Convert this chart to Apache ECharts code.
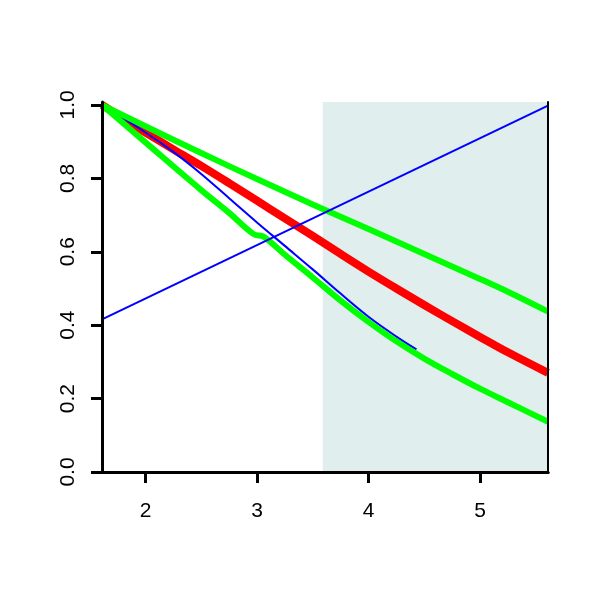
<!DOCTYPE html>
<html>
<head>
<meta charset="utf-8">
<script src="https://cdn.jsdelivr.net/npm/echarts@6/dist/echarts.min.js"></script>
<style>html,body{margin:0;padding:0;background:#fff}#c{width:600px;height:600px}</style>
</head>
<body>
<div id="c"></div>
<script>
// Tick labels
var xTicks = [2, 3, 4, 5];
var yTicks = [0, 0.2, 0.4, 0.6, 0.8, 1.0];
var xMin = 1.61, xMax = 5.61, yMin = 0, yMax = 1.008;
var shadeFrom = 3.59;

// Upper green curve
var ugX = [1.61, 2.0, 2.5, 3.0, 3.5, 4.0, 4.5, 5.0, 5.25, 5.61];
var ugY = [1.0, 0.942, 0.869, 0.798, 0.729, 0.662, 0.594, 0.526, 0.491, 0.437];
// Red curve
var redX = [1.61, 1.82, 2.0, 2.25, 2.5, 2.75, 3.0, 3.25, 3.5, 3.75, 4.0, 4.25, 4.5, 4.75, 5.0, 5.25, 5.61];
var redY = [1.0, 0.959, 0.925, 0.879, 0.834, 0.787, 0.739, 0.691, 0.643, 0.594, 0.546, 0.5, 0.455, 0.411, 0.368, 0.326, 0.27];
// Blue curve
var bcX = [1.61, 2.0, 2.25, 2.5, 2.75, 3.0, 3.25, 3.5, 3.75, 4.0, 4.25, 4.43];
var bcY = [1.0, 0.925, 0.872, 0.812, 0.746, 0.68, 0.616, 0.552, 0.486, 0.423, 0.369, 0.334];
// Lower green curve
var lgX = [1.61, 2.0, 2.5, 2.75, 2.97, 3.06, 3.25, 3.5, 3.75, 4.0, 4.25, 4.5, 4.75, 5.0, 5.25, 5.61];
var lgY = [1.0, 0.898, 0.768, 0.706, 0.648, 0.641, 0.592, 0.53, 0.467, 0.409, 0.356, 0.309, 0.267, 0.227, 0.19, 0.137];
// Blue straight line
var blX = [1.61, 5.61];
var blY = [0.416, 0.998];

function pts(xs, ys) { return xs.map(function (x, i) { return [x, ys[i]]; }); }

var font = '"Liberation Sans", Arial, Helvetica, sans-serif';
var chart = echarts.init(document.getElementById('c'), null, { renderer: 'canvas' });

function lineSeries(xs, ys, color, width, z, extra) {
  var s = {
    type: 'line', data: pts(xs, ys), symbol: 'none', smooth: 0.35,
    lineStyle: { color: color, width: width, cap: 'butt', join: 'round' },
    z: z, silent: true, animation: false, clip: true
  };
  if (extra) for (var k in extra) s[k] = extra[k];
  return s;
}

var option = {
  animation: false,
  backgroundColor: '#ffffff',
  grid: { left: 102, right: 52, top: 102, bottom: 128, show: false },
  xAxis: [{
    type: 'value', min: xMin, max: xMax, position: 'bottom', z: 10,
    axisLine: { show: true, lineStyle: { color: '#000', width: 3 } },
    axisTick: { show: true, length: 11, lineStyle: { color: '#000', width: 3 }, customValues: xTicks },
    axisLabel: { show: true, margin: 29, color: '#000', fontSize: 21, fontFamily: font, customValues: xTicks,
      formatter: function (v) { return String(v); } },
    splitLine: { show: false }
  }, {
    type: 'value', min: xMin, max: xMax, position: 'top', z: 10,
    axisLine: { show: true, lineStyle: { color: '#000', width: 3 } },
    axisTick: { show: false }, axisLabel: { show: false }, splitLine: { show: false }
  }],
  yAxis: [{
    type: 'value', min: yMin, max: yMax, position: 'left', z: 10,
    axisLine: { show: true, lineStyle: { color: '#000', width: 3 } },
    axisTick: { show: true, length: 11, lineStyle: { color: '#000', width: 3 }, customValues: yTicks },
    axisLabel: { show: true, rotate: 90, margin: 23, color: '#000', fontSize: 21, fontFamily: font, customValues: yTicks,
      formatter: function (v) { return v.toFixed(1); } },
    splitLine: { show: false }
  }, {
    type: 'value', min: yMin, max: yMax, position: 'right', z: 10,
    axisLine: { show: true, lineStyle: { color: '#000', width: 2 } },
    axisTick: { show: false }, axisLabel: { show: false }, splitLine: { show: false }
  }],
  series: [
    lineSeries(redX, redY, '#ff0000', 8, 3, {
      markArea: {
        silent: true,
        itemStyle: { color: '#e0eeee', opacity: 1 },
        data: [[{ coord: [shadeFrom, yMin] }, { coord: [xMax, yMax] }]]
      }
    }),
    lineSeries(bcX, bcY, '#0000ff', 2, 4),
    lineSeries(ugX, ugY, '#00ff00', 6, 5),
    lineSeries(lgX, lgY, '#00ff00', 6, 5),
    lineSeries(blX, blY, '#0000ff', 2, 6, { smooth: false })
  ]
};
chart.setOption(option);
</script>
</body>
</html>
